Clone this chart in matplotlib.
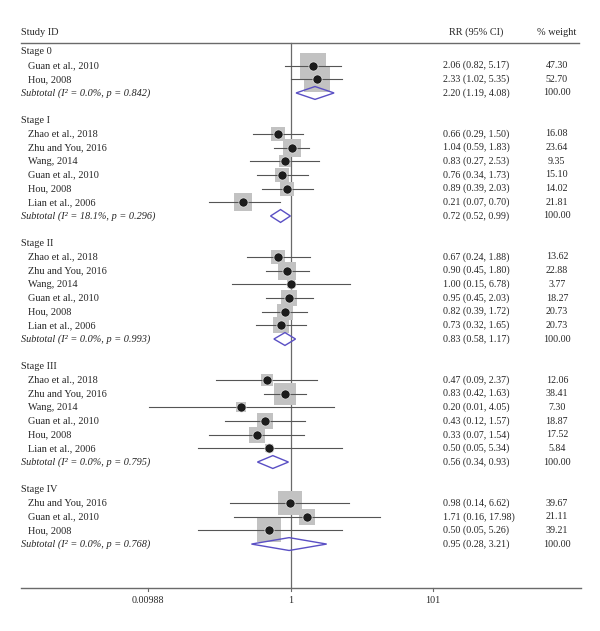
import numpy as np
import matplotlib
matplotlib.use('Agg')
import matplotlib.pyplot as plt

plt.rcParams['font.family'] = ['Liberation Serif', 'DejaVu Serif']

# data
stages = ['Stage 0', 'Stage I', 'Stage II', 'Stage III', 'Stage IV']

studies_0 = ['Guan et al., 2010', 'Hou, 2008']
rr_0 = [2.06, 2.33]
lo_0 = [0.82, 1.02]
hi_0 = [5.17, 5.35]
wt_0 = [47.30, 52.70]

studies_1 = ['Zhao et al., 2018', 'Zhu and You, 2016', 'Wang, 2014',
             'Guan et al., 2010', 'Hou, 2008', 'Lian et al., 2006']
rr_1 = [0.66, 1.04, 0.83, 0.76, 0.89, 0.21]
lo_1 = [0.29, 0.59, 0.27, 0.34, 0.39, 0.07]
hi_1 = [1.50, 1.83, 2.53, 1.73, 2.03, 0.70]
wt_1 = [16.08, 23.64, 9.35, 15.10, 14.02, 21.81]

studies_2 = ['Zhao et al., 2018', 'Zhu and You, 2016', 'Wang, 2014',
             'Guan et al., 2010', 'Hou, 2008', 'Lian et al., 2006']
rr_2 = [0.67, 0.90, 1.00, 0.95, 0.82, 0.73]
lo_2 = [0.24, 0.45, 0.15, 0.45, 0.39, 0.32]
hi_2 = [1.88, 1.80, 6.78, 2.03, 1.72, 1.65]
wt_2 = [13.62, 22.88, 3.77, 18.27, 20.73, 20.73]

studies_3 = ['Zhao et al., 2018', 'Zhu and You, 2016', 'Wang, 2014',
             'Guan et al., 2010', 'Hou, 2008', 'Lian et al., 2006']
rr_3 = [0.47, 0.83, 0.20, 0.43, 0.33, 0.50]
lo_3 = [0.09, 0.42, 0.01, 0.12, 0.07, 0.05]
hi_3 = [2.37, 1.63, 4.05, 1.57, 1.54, 5.34]
wt_3 = [12.06, 38.41, 7.30, 18.87, 17.52, 5.84]

studies_4 = ['Zhu and You, 2016', 'Guan et al., 2010', 'Hou, 2008']
rr_4 = [0.98, 1.71, 0.50]
lo_4 = [0.14, 0.16, 0.05]
hi_4 = [6.62, 17.98, 5.26]
wt_4 = [39.67, 21.11, 39.21]

sub_i2 = ['0.0%', '18.1%', '0.0%', '0.0%', '0.0%']
sub_p = ['0.842', '0.296', '0.993', '0.795', '0.768']
sub_rr = [2.20, 0.72, 0.83, 0.56, 0.95]
sub_lo = [1.19, 0.52, 0.58, 0.34, 0.28]
sub_hi = [4.08, 0.99, 1.17, 0.93, 3.21]

tick_vals = [0.00988, 1, 101]
tick_labels = ['0.00988', '1', '101']

groups = [
    (studies_0, rr_0, lo_0, hi_0, wt_0),
    (studies_1, rr_1, lo_1, hi_1, wt_1),
    (studies_2, rr_2, lo_2, hi_2, wt_2),
    (studies_3, rr_3, lo_3, hi_3, wt_3),
    (studies_4, rr_4, lo_4, hi_4, wt_4),
]

txt_col = '#262626'
fs = 7.4
fs_num = 7.2

fig = plt.figure(figsize=(6, 6.31), dpi=100)
ax = fig.add_axes([0, 0, 1, 1])
ax.set_xscale('log')
ax.set_xlim(10 ** -4.094, 10 ** 4.356)
ax.set_ylim(43.36, -2.8)
ax.axis('off')

tr = ax.get_yaxis_transform()  # x in axes fraction, y in rows

# header
ax.text(0.035, -0.45, 'Study ID', transform=tr, fontsize=fs, color=txt_col, va='center')
ax.text(0.793, -0.45, 'RR (95% CI)', transform=tr, fontsize=fs, color=txt_col, va='center', ha='center')
ax.text(0.928, -0.45, '% weight', transform=tr, fontsize=fs, color=txt_col, va='center', ha='center')
ax.plot([0.035, 0.965], [0.32, 0.32], transform=tr, color='#6a6a6a', lw=1.0)

# reference line at 1
ax.plot([1, 1], [0.32, 40.2], color='#6a6a6a', lw=0.9, zorder=1)

row = 1
for g, (names, rr, lo, hi, wt) in enumerate(groups):
    ax.text(0.035, row, stages[g], transform=tr, fontsize=fs, color=txt_col, va='center')
    row += 1
    for k in range(len(names)):
        ax.text(0.047, row, names[k], transform=tr, fontsize=fs, color=txt_col, va='center')
        side = 3.7 * np.sqrt(wt[k]) * 0.72
        ax.plot(rr[k], row, marker='s', markersize=side, color='#c2c2c2',
                markeredgewidth=0, zorder=2)
        ax.plot([lo[k], hi[k]], [row, row], color='#555555', lw=0.8, zorder=3)
        ax.plot(rr[k], row, marker='o', markersize=6.6, color='#1c1c1c',
                markeredgecolor='#e8e8e8', markeredgewidth=0.5, zorder=4)
        ax.text(0.738, row, '%.2f (%.2f, %.2f)' % (rr[k], lo[k], hi[k]), transform=tr,
                fontsize=fs_num, color=txt_col, va='center')
        ax.text(0.928, row, '%.2f' % wt[k], transform=tr, fontsize=fs_num,
                color=txt_col, va='center', ha='center')
        row += 1
    # subtotal
    ax.text(0.035, row, 'Subtotal (I² = %s, p = %s)' % (sub_i2[g], sub_p[g]), transform=tr,
            fontsize=fs, color=txt_col, va='center', style='italic')
    h = 0.47
    ax.fill([sub_lo[g], sub_rr[g], sub_hi[g], sub_rr[g]], [row, row - h, row, row + h],
            facecolor='none', edgecolor='#5a4fc4', lw=1.0, zorder=5)
    ax.text(0.738, row, '%.2f (%.2f, %.2f)' % (sub_rr[g], sub_lo[g], sub_hi[g]), transform=tr,
            fontsize=fs_num, color=txt_col, va='center')
    ax.text(0.928, row, '100.00', transform=tr, fontsize=fs_num,
            color=txt_col, va='center', ha='center')
    row += 2

# bottom axis
ax.plot([0.035, 0.968], [40.2, 40.2], transform=tr, color='#6a6a6a', lw=1.0)
for v, lab in zip(tick_vals, tick_labels):
    ax.plot([v, v], [40.2, 40.45], color='#6a6a6a', lw=0.8)
    ax.text(v, 41.1, lab, fontsize=fs_num, color=txt_col, ha='center', va='center')

fig.savefig('out.png', dpi=100)
plt.close(fig)
